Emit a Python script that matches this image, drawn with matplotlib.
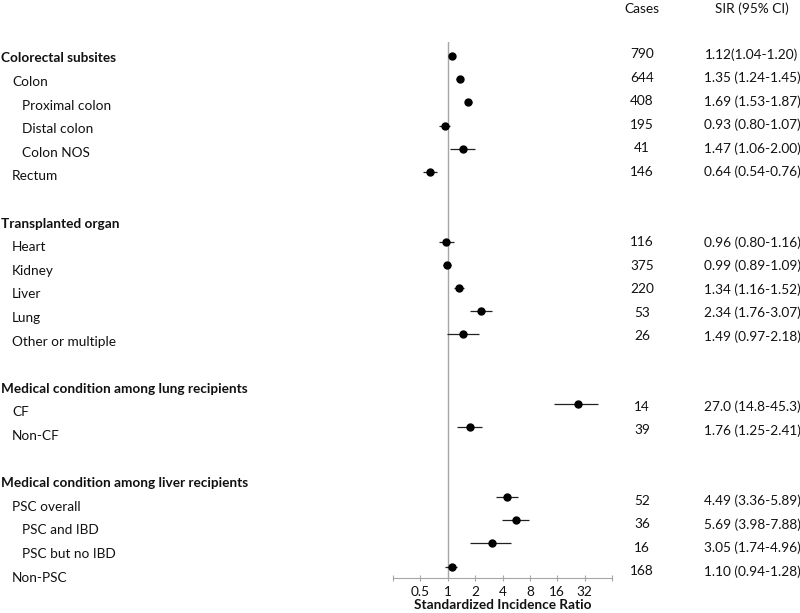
import matplotlib.pyplot as plt
import numpy as np
from matplotlib.ticker import NullLocator

plt.rcParams['font.family'] = ['Lato', 'DejaVu Sans']

# rows of the forest plot (None = header / spacer without estimate)
row_labels = ["Colorectal subsites", "Colon", "Proximal colon", "Distal colon", "Colon NOS", "Rectum", "",
              "Transplanted organ", "Heart", "Kidney", "Liver", "Lung", "Other or multiple", "",
              "Medical condition among lung recipients", "CF", "Non-CF", "",
              "Medical condition among liver recipients", "PSC overall", "PSC and IBD", "PSC but no IBD", "Non-PSC"]
row_levels = [0, 1, 2, 2, 2, 1, 0,
              0, 1, 1, 1, 1, 1, 0,
              0, 1, 1, 0,
              0, 1, 2, 2, 1]
cases = [790, 644, 408, 195, 41, 146, None,
         None, 116, 375, 220, 53, 26, None,
         None, 14, 39, None,
         None, 52, 36, 16, 168]
sir = [1.12, 1.35, 1.69, 0.93, 1.47, 0.64, None,
       None, 0.96, 0.99, 1.34, 2.34, 1.49, None,
       None, 27.0, 1.76, None,
       None, 4.49, 5.69, 3.05, 1.10]
ci_low = [1.04, 1.24, 1.53, 0.80, 1.06, 0.54, None,
          None, 0.80, 0.89, 1.16, 1.76, 0.97, None,
          None, 14.8, 1.25, None,
          None, 3.36, 3.98, 1.74, 0.94]
ci_high = [1.20, 1.45, 1.87, 1.07, 2.00, 0.76, None,
           None, 1.16, 1.09, 1.52, 3.07, 2.18, None,
           None, 45.3, 2.41, None,
           None, 5.89, 7.88, 4.96, 1.28]
sir_text = ["1.12(1.04-1.20)", "1.35 (1.24-1.45)", "1.69 (1.53-1.87)", "0.93 (0.80-1.07)",
            "1.47 (1.06-2.00)", "0.64 (0.54-0.76)", "",
            "", "0.96 (0.80-1.16)", "0.99 (0.89-1.09)", "1.34 (1.16-1.52)", "2.34 (1.76-3.07)",
            "1.49 (0.97-2.18)", "",
            "", "27.0 (14.8-45.3)", "1.76 (1.25-2.41)", "",
            "", "4.49 (3.36-5.89)", "5.69 (3.98-7.88)", "3.05 (1.74-4.96)", "1.10 (0.94-1.28)"]
x_ticks = [0.25, 0.5, 1, 2, 4, 8, 16, 32, 64]
x_tick_labels = ["", "0.5", "1", "2", "4", "8", "16", "32", ""]

W, H = 800, 613
fs = 9.8
txt = '#111111'
fig = plt.figure(figsize=(W / 100, H / 100), dpi=100)


def px_box(x0, y0, x1, y1):
    return [x0 / W, 1 - y1 / H, (x1 - x0) / W, (y1 - y0) / H]


# forest panel
ax = fig.add_axes(px_box(393, 42, 612, 578))
idx = [i for i, s in enumerate(sir) if s is not None]
est = np.array([sir[i] for i in idx])
lo = np.array([ci_low[i] for i in idx])
hi = np.array([ci_high[i] for i in idx])
ax.errorbar(est, idx, xerr=[est - lo, hi - est], fmt='o', color='black', ms=5,
            elinewidth=0.9, ecolor='#222222', capsize=0, zorder=3)
ax.axvline(1, color='#a6a6a6', lw=1, zorder=1)
ax.set_xscale('log', base=2)
ax.set_xlim(0.25, 64)
ax.set_ylim(22.49, -0.6)
ax.set_xticks(x_ticks)
ax.set_xticklabels(x_tick_labels)
ax.xaxis.set_minor_locator(NullLocator())
ax.set_yticks([])
for s in ['left', 'top', 'right']:
    ax.spines[s].set_visible(False)
ax.spines['bottom'].set_color('#a6a6a6')
ax.tick_params(axis='x', direction='inout', length=5, color='#a6a6a6', labelsize=fs,
               labelcolor=txt, pad=3)
ax.set_xlabel("Standardized Incidence Ratio", fontsize=fs, fontweight='bold', color=txt, labelpad=1)
ax.patch.set_alpha(0)

# row labels column
lab = fig.add_axes([0, 0, 1, 1])
lab.axis('off')
lab.set_xlim(0, W)
lab.set_ylim(23.50, -2.47)
indent = {0: 1, 1: 12, 2: 22}
for r, (name, lev) in enumerate(zip(row_labels, row_levels)):
    lab.text(indent[lev], r, name, ha='left', va='center', fontsize=fs, color=txt,
             fontweight='bold' if lev == 0 else 'normal')

# cases and SIR columns
num = fig.add_axes([0, 0, 1, 1])
num.axis('off')
num.set_xlim(0, W)
num.set_ylim(23.766, -2.319)
num.text(642, -1.94, "Cases", ha='center', va='center', fontsize=fs, color=txt)
num.text(752, -1.94, "SIR (95% CI)", ha='center', va='center', fontsize=fs, color=txt)
for r, (c, t) in enumerate(zip(cases, sir_text)):
    if c is not None:
        num.text(642, r, str(c), ha='center', va='center', fontsize=fs, color=txt)
        num.text(752, r, t, ha='center', va='center', fontsize=fs, color=txt)

fig.savefig("out.png", dpi=100)
